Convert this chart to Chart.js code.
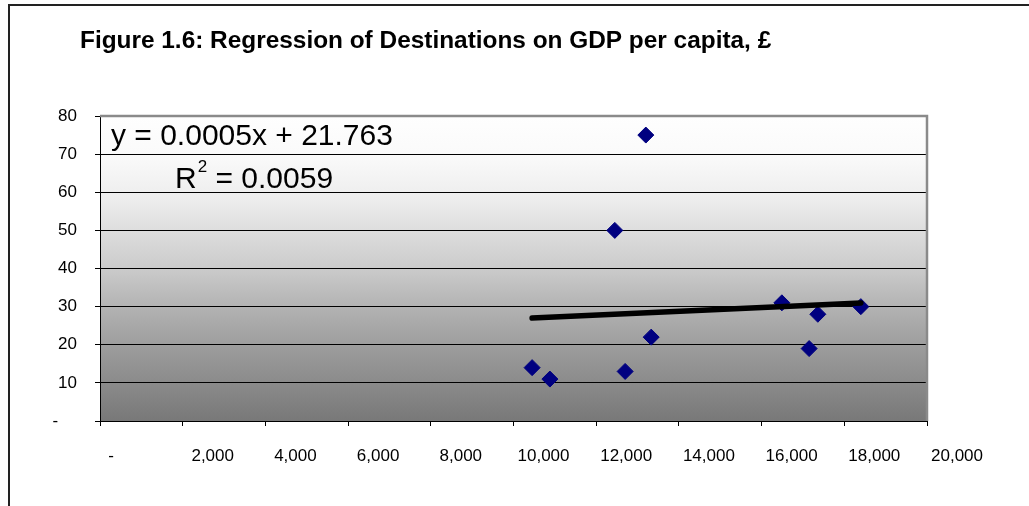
<!DOCTYPE html>
<html>
<head>
<meta charset="utf-8">
<title>Figure 1.6: Regression of Destinations on GDP per capita</title>
<script src="https://cdn.jsdelivr.net/npm/chart.js@4.4.1/dist/chart.umd.min.js"></script>
<style>
  html, body { margin: 0; padding: 0; background: #ffffff; }
  #wrap { width: 1029px; height: 506px; position: relative; }
</style>
</head>
<body>
<div id="wrap"><canvas id="chart" width="1029" height="506"></canvas></div>
<script>
// GDP per capita (£) and number of destinations for each observation
const gdpPerCapita = [10450, 10880, 12450, 12700, 13200, 13330, 16490, 17150, 17360, 18400];
const destinations = [14, 11, 50, 13, 75, 22, 31, 19, 28, 30];

// Fitted linear trend, as reported in the equation label
const trendSlope = 0.0005;
const trendIntercept = 21.763;
const trendR2 = 0.0059;

// Axis tick values
const xTicks = [0, 2000, 4000, 6000, 8000, 10000, 12000, 14000, 16000, 18000, 20000];
const yTicks = [0, 10, 20, 30, 40, 50, 60, 70, 80];

const chartTitle = 'Figure 1.6: Regression of Destinations on GDP per capita, £';

const FONT = "'Liberation Sans', Arial, Helvetica, sans-serif";

const points = gdpPerCapita.map((x, i) => ({ x: x, y: destinations[i] }));
const xMin = Math.min(...gdpPerCapita);
const xMax = Math.max(...gdpPerCapita);
const trendLine = [xMin, xMax].map(x => ({ x: x, y: trendSlope * x + trendIntercept }));

// Page frame, title, plot-area gradient and plot-area border
const framePlugin = {
  id: 'frame',
  beforeDraw(chart) {
    const ctx = chart.ctx;
    const a = chart.chartArea;
    ctx.save();
    ctx.fillStyle = '#ffffff';
    ctx.fillRect(0, 0, chart.width, chart.height);
    // outer frame lines
    ctx.strokeStyle = '#222222';
    ctx.lineWidth = 2;
    ctx.beginPath();
    ctx.moveTo(9, 506);
    ctx.lineTo(9, 5);
    ctx.lineTo(1029, 5);
    ctx.stroke();
    // title
    ctx.fillStyle = '#000000';
    ctx.font = 'bold 24.4px ' + FONT;
    ctx.textAlign = 'left';
    ctx.textBaseline = 'alphabetic';
    ctx.fillText(chartTitle, 80, 48);
    // gradient fill of the plot area
    const g = ctx.createLinearGradient(0, a.top, 0, a.bottom);
    g.addColorStop(0.00, '#fefefe');
    g.addColorStop(0.13, '#fafafa');
    g.addColorStop(0.28, '#ececec');
    g.addColorStop(0.50, '#cbcbcb');
    g.addColorStop(0.64, '#b0b0b0');
    g.addColorStop(0.78, '#999999');
    g.addColorStop(0.90, '#878787');
    g.addColorStop(1.00, '#787878');
    ctx.fillStyle = g;
    ctx.fillRect(a.left, a.top, a.right - a.left, a.bottom - a.top);
    ctx.restore();
  },
  beforeDatasetsDraw(chart) {
    const ctx = chart.ctx;
    const a = chart.chartArea;
    ctx.save();
    ctx.strokeStyle = '#8a8a8a';
    ctx.lineWidth = 2.5;
    ctx.beginPath();
    ctx.moveTo(a.left, a.top);
    ctx.lineTo(a.right, a.top);
    ctx.lineTo(a.right, a.bottom);
    ctx.stroke();
    ctx.restore();
  }
};

// Regression equation and R² text
const equationPlugin = {
  id: 'equation',
  afterDraw(chart) {
    const ctx = chart.ctx;
    ctx.save();
    ctx.fillStyle = '#000000';
    ctx.textBaseline = 'alphabetic';
    ctx.textAlign = 'left';
    ctx.font = '30px ' + FONT;
    ctx.fillText('y = ' + trendSlope.toFixed(4) + 'x + ' + trendIntercept.toFixed(3), 111, 145);
    let x = 175;
    ctx.fillText('R', x, 188);
    x += ctx.measureText('R').width + 1;
    ctx.font = '17px ' + FONT;
    ctx.fillText('2', x, 172);
    x += ctx.measureText('2').width;
    ctx.font = '30px ' + FONT;
    ctx.fillText(' = ' + trendR2.toFixed(4), x, 188);
    ctx.restore();
  }
};

function fmtTick(v) {
  return v === 0 ? '-' : v.toLocaleString('en-US');
}

new Chart(document.getElementById('chart'), {
  data: {
    datasets: [
      {
        type: 'line',
        label: 'Linear trend',
        data: trendLine,
        borderColor: '#000000',
        borderWidth: 5.5,
        borderCapStyle: 'round',
        pointRadius: 0,
        fill: false,
        order: 0
      },
      {
        type: 'scatter',
        label: 'Destinations',
        data: points,
        pointStyle: 'rectRot',
        pointRadius: 8,
        pointBackgroundColor: '#000080',
        pointBorderColor: '#000080',
        pointBorderWidth: 1,
        order: 1
      }
    ]
  },
  options: {
    responsive: false,
    animation: false,
    layout: { padding: { left: 0, right: 102, top: 116, bottom: 0 } },
    plugins: {
      legend: { display: false },
      tooltip: { enabled: false },
      title: { display: false }
    },
    scales: {
      x: {
        type: 'linear',
        position: 'bottom',
        min: xTicks[0],
        max: xTicks[xTicks.length - 1],
        afterBuildTicks(scale) { scale.ticks = xTicks.map(v => ({ value: v })); },
        afterFit(scale) { scale.height = 85; },
        ticks: {
          color: '#000000',
          font: { family: FONT, size: 17 },
          padding: 20,
          labelOffset: 30,
          maxRotation: 0,
          autoSkip: false,
          callback: v => v === 0 ? '-        ' : fmtTick(v)
        },
        grid: {
          drawOnChartArea: false,
          drawTicks: true,
          tickLength: 5,
          color: '#000000',
          lineWidth: 1
        },
        border: { display: true, color: '#000000', width: 1 }
      },
      y: {
        type: 'linear',
        position: 'left',
        min: yTicks[0],
        max: yTicks[yTicks.length - 1],
        afterBuildTicks(scale) { scale.ticks = yTicks.map(v => ({ value: v })); },
        afterFit(scale) { scale.width = 100; },
        ticks: {
          color: '#000000',
          font: { family: FONT, size: 17 },
          padding: 18,
          autoSkip: false,
          callback: v => v === 0 ? '-    ' : fmtTick(v)
        },
        grid: {
          drawOnChartArea: true,
          drawTicks: true,
          tickLength: 5,
          color: '#000000',
          lineWidth: 1
        },
        border: { display: true, color: '#000000', width: 1 }
      }
    }
  },
  plugins: [framePlugin, equationPlugin]
});
</script>
</body>
</html>
